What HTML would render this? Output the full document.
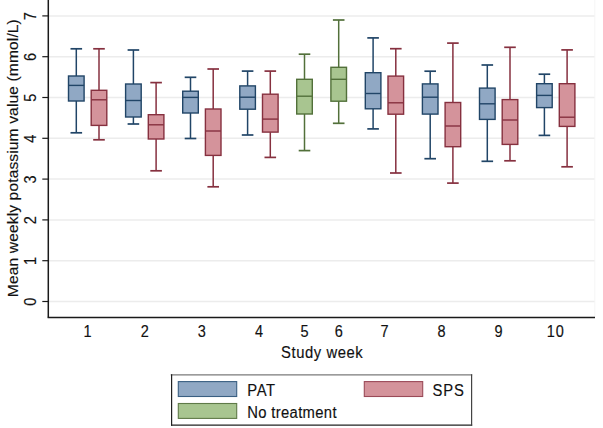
<!DOCTYPE html>
<html><head><meta charset="utf-8"><style>
html,body{margin:0;padding:0;background:#fff;}
body{width:603px;height:428px;overflow:hidden;}
svg{display:block;font-family:"Liberation Sans", sans-serif;}
text{stroke:#111;stroke-width:0.15px;}
</style></head><body>
<svg width="603" height="428" viewBox="0 0 603 428">
<rect width="603" height="428" fill="#fff"/>
<line x1="48.5" y1="301.50" x2="595" y2="301.50" stroke="#ececec" stroke-width="1.5"/>
<line x1="48.5" y1="260.70" x2="595" y2="260.70" stroke="#ececec" stroke-width="1.5"/>
<line x1="48.5" y1="219.90" x2="595" y2="219.90" stroke="#ececec" stroke-width="1.5"/>
<line x1="48.5" y1="179.10" x2="595" y2="179.10" stroke="#ececec" stroke-width="1.5"/>
<line x1="48.5" y1="138.30" x2="595" y2="138.30" stroke="#ececec" stroke-width="1.5"/>
<line x1="48.5" y1="97.50" x2="595" y2="97.50" stroke="#ececec" stroke-width="1.5"/>
<line x1="48.5" y1="56.70" x2="595" y2="56.70" stroke="#ececec" stroke-width="1.5"/>
<line x1="48.5" y1="15.90" x2="595" y2="15.90" stroke="#ececec" stroke-width="1.5"/>
<line x1="76.3" y1="48.8" x2="76.3" y2="76.0" stroke="#214567" stroke-width="1.5"/>
<line x1="76.3" y1="101.0" x2="76.3" y2="132.8" stroke="#214567" stroke-width="1.5"/>
<line x1="70.50" y1="48.8" x2="82.10" y2="48.8" stroke="#214567" stroke-width="1.7"/>
<line x1="70.50" y1="132.8" x2="82.10" y2="132.8" stroke="#214567" stroke-width="1.7"/>
<rect x="68.50" y="76.0" width="15.6" height="25.00" fill="#90a8c4" stroke="#214567" stroke-width="1.4"/>
<line x1="68.50" y1="85.4" x2="84.10" y2="85.4" stroke="#214567" stroke-width="1.4"/>
<line x1="99.0" y1="48.8" x2="99.0" y2="90.3" stroke="#86303f" stroke-width="1.5"/>
<line x1="99.0" y1="125.4" x2="99.0" y2="139.8" stroke="#86303f" stroke-width="1.5"/>
<line x1="93.20" y1="48.8" x2="104.80" y2="48.8" stroke="#86303f" stroke-width="1.7"/>
<line x1="93.20" y1="139.8" x2="104.80" y2="139.8" stroke="#86303f" stroke-width="1.7"/>
<rect x="91.20" y="90.3" width="15.6" height="35.10" fill="#d4939b" stroke="#86303f" stroke-width="1.4"/>
<line x1="91.20" y1="99.8" x2="106.80" y2="99.8" stroke="#86303f" stroke-width="1.4"/>
<line x1="133.4" y1="50.0" x2="133.4" y2="84.0" stroke="#214567" stroke-width="1.5"/>
<line x1="133.4" y1="117.0" x2="133.4" y2="124.0" stroke="#214567" stroke-width="1.5"/>
<line x1="127.60" y1="50.0" x2="139.20" y2="50.0" stroke="#214567" stroke-width="1.7"/>
<line x1="127.60" y1="124.0" x2="139.20" y2="124.0" stroke="#214567" stroke-width="1.7"/>
<rect x="125.60" y="84.0" width="15.6" height="33.00" fill="#90a8c4" stroke="#214567" stroke-width="1.4"/>
<line x1="125.60" y1="100.5" x2="141.20" y2="100.5" stroke="#214567" stroke-width="1.4"/>
<line x1="156.1" y1="82.6" x2="156.1" y2="114.7" stroke="#86303f" stroke-width="1.5"/>
<line x1="156.1" y1="139.0" x2="156.1" y2="170.8" stroke="#86303f" stroke-width="1.5"/>
<line x1="150.30" y1="82.6" x2="161.90" y2="82.6" stroke="#86303f" stroke-width="1.7"/>
<line x1="150.30" y1="170.8" x2="161.90" y2="170.8" stroke="#86303f" stroke-width="1.7"/>
<rect x="148.30" y="114.7" width="15.6" height="24.30" fill="#d4939b" stroke="#86303f" stroke-width="1.4"/>
<line x1="148.30" y1="124.8" x2="163.90" y2="124.8" stroke="#86303f" stroke-width="1.4"/>
<line x1="190.5" y1="77.3" x2="190.5" y2="91.2" stroke="#214567" stroke-width="1.5"/>
<line x1="190.5" y1="113.0" x2="190.5" y2="138.5" stroke="#214567" stroke-width="1.5"/>
<line x1="184.70" y1="77.3" x2="196.30" y2="77.3" stroke="#214567" stroke-width="1.7"/>
<line x1="184.70" y1="138.5" x2="196.30" y2="138.5" stroke="#214567" stroke-width="1.7"/>
<rect x="182.70" y="91.2" width="15.6" height="21.80" fill="#90a8c4" stroke="#214567" stroke-width="1.4"/>
<line x1="182.70" y1="97.4" x2="198.30" y2="97.4" stroke="#214567" stroke-width="1.4"/>
<line x1="213.2" y1="69.0" x2="213.2" y2="109.0" stroke="#86303f" stroke-width="1.5"/>
<line x1="213.2" y1="155.4" x2="213.2" y2="186.8" stroke="#86303f" stroke-width="1.5"/>
<line x1="207.40" y1="69.0" x2="219.00" y2="69.0" stroke="#86303f" stroke-width="1.7"/>
<line x1="207.40" y1="186.8" x2="219.00" y2="186.8" stroke="#86303f" stroke-width="1.7"/>
<rect x="205.40" y="109.0" width="15.6" height="46.40" fill="#d4939b" stroke="#86303f" stroke-width="1.4"/>
<line x1="205.40" y1="131.0" x2="221.00" y2="131.0" stroke="#86303f" stroke-width="1.4"/>
<line x1="247.6" y1="71.1" x2="247.6" y2="85.9" stroke="#214567" stroke-width="1.5"/>
<line x1="247.6" y1="109.2" x2="247.6" y2="135.0" stroke="#214567" stroke-width="1.5"/>
<line x1="241.80" y1="71.1" x2="253.40" y2="71.1" stroke="#214567" stroke-width="1.7"/>
<line x1="241.80" y1="135.0" x2="253.40" y2="135.0" stroke="#214567" stroke-width="1.7"/>
<rect x="239.80" y="85.9" width="15.6" height="23.30" fill="#90a8c4" stroke="#214567" stroke-width="1.4"/>
<line x1="239.80" y1="97.2" x2="255.40" y2="97.2" stroke="#214567" stroke-width="1.4"/>
<line x1="270.3" y1="71.1" x2="270.3" y2="94.2" stroke="#86303f" stroke-width="1.5"/>
<line x1="270.3" y1="132.1" x2="270.3" y2="157.4" stroke="#86303f" stroke-width="1.5"/>
<line x1="264.50" y1="71.1" x2="276.10" y2="71.1" stroke="#86303f" stroke-width="1.7"/>
<line x1="264.50" y1="157.4" x2="276.10" y2="157.4" stroke="#86303f" stroke-width="1.7"/>
<rect x="262.50" y="94.2" width="15.6" height="37.90" fill="#d4939b" stroke="#86303f" stroke-width="1.4"/>
<line x1="262.50" y1="119.1" x2="278.10" y2="119.1" stroke="#86303f" stroke-width="1.4"/>
<line x1="304.5" y1="54.2" x2="304.5" y2="79.3" stroke="#52703a" stroke-width="1.5"/>
<line x1="304.5" y1="114.0" x2="304.5" y2="150.6" stroke="#52703a" stroke-width="1.5"/>
<line x1="298.70" y1="54.2" x2="310.30" y2="54.2" stroke="#52703a" stroke-width="1.7"/>
<line x1="298.70" y1="150.6" x2="310.30" y2="150.6" stroke="#52703a" stroke-width="1.7"/>
<rect x="296.70" y="79.3" width="15.6" height="34.70" fill="#a8c590" stroke="#52703a" stroke-width="1.4"/>
<line x1="296.70" y1="96.2" x2="312.30" y2="96.2" stroke="#52703a" stroke-width="1.4"/>
<line x1="338.7" y1="20.0" x2="338.7" y2="67.3" stroke="#52703a" stroke-width="1.5"/>
<line x1="338.7" y1="101.2" x2="338.7" y2="123.3" stroke="#52703a" stroke-width="1.5"/>
<line x1="332.90" y1="20.0" x2="344.50" y2="20.0" stroke="#52703a" stroke-width="1.7"/>
<line x1="332.90" y1="123.3" x2="344.50" y2="123.3" stroke="#52703a" stroke-width="1.7"/>
<rect x="330.90" y="67.3" width="15.6" height="33.90" fill="#a8c590" stroke="#52703a" stroke-width="1.4"/>
<line x1="330.90" y1="79.3" x2="346.50" y2="79.3" stroke="#52703a" stroke-width="1.4"/>
<line x1="373.1" y1="37.9" x2="373.1" y2="72.7" stroke="#214567" stroke-width="1.5"/>
<line x1="373.1" y1="108.8" x2="373.1" y2="128.9" stroke="#214567" stroke-width="1.5"/>
<line x1="367.30" y1="37.9" x2="378.90" y2="37.9" stroke="#214567" stroke-width="1.7"/>
<line x1="367.30" y1="128.9" x2="378.90" y2="128.9" stroke="#214567" stroke-width="1.7"/>
<rect x="365.30" y="72.7" width="15.6" height="36.10" fill="#90a8c4" stroke="#214567" stroke-width="1.4"/>
<line x1="365.30" y1="93.5" x2="380.90" y2="93.5" stroke="#214567" stroke-width="1.4"/>
<line x1="395.8" y1="48.7" x2="395.8" y2="76.1" stroke="#86303f" stroke-width="1.5"/>
<line x1="395.8" y1="114.2" x2="395.8" y2="173.0" stroke="#86303f" stroke-width="1.5"/>
<line x1="390.00" y1="48.7" x2="401.60" y2="48.7" stroke="#86303f" stroke-width="1.7"/>
<line x1="390.00" y1="173.0" x2="401.60" y2="173.0" stroke="#86303f" stroke-width="1.7"/>
<rect x="388.00" y="76.1" width="15.6" height="38.10" fill="#d4939b" stroke="#86303f" stroke-width="1.4"/>
<line x1="388.00" y1="102.8" x2="403.60" y2="102.8" stroke="#86303f" stroke-width="1.4"/>
<line x1="430.2" y1="71.2" x2="430.2" y2="83.9" stroke="#214567" stroke-width="1.5"/>
<line x1="430.2" y1="114.1" x2="430.2" y2="158.7" stroke="#214567" stroke-width="1.5"/>
<line x1="424.40" y1="71.2" x2="436.00" y2="71.2" stroke="#214567" stroke-width="1.7"/>
<line x1="424.40" y1="158.7" x2="436.00" y2="158.7" stroke="#214567" stroke-width="1.7"/>
<rect x="422.40" y="83.9" width="15.6" height="30.20" fill="#90a8c4" stroke="#214567" stroke-width="1.4"/>
<line x1="422.40" y1="97.2" x2="438.00" y2="97.2" stroke="#214567" stroke-width="1.4"/>
<line x1="452.9" y1="43.1" x2="452.9" y2="102.5" stroke="#86303f" stroke-width="1.5"/>
<line x1="452.9" y1="146.7" x2="452.9" y2="183.1" stroke="#86303f" stroke-width="1.5"/>
<line x1="447.10" y1="43.1" x2="458.70" y2="43.1" stroke="#86303f" stroke-width="1.7"/>
<line x1="447.10" y1="183.1" x2="458.70" y2="183.1" stroke="#86303f" stroke-width="1.7"/>
<rect x="445.10" y="102.5" width="15.6" height="44.20" fill="#d4939b" stroke="#86303f" stroke-width="1.4"/>
<line x1="445.10" y1="126.0" x2="460.70" y2="126.0" stroke="#86303f" stroke-width="1.4"/>
<line x1="487.3" y1="65.0" x2="487.3" y2="88.1" stroke="#214567" stroke-width="1.5"/>
<line x1="487.3" y1="119.4" x2="487.3" y2="161.3" stroke="#214567" stroke-width="1.5"/>
<line x1="481.50" y1="65.0" x2="493.10" y2="65.0" stroke="#214567" stroke-width="1.7"/>
<line x1="481.50" y1="161.3" x2="493.10" y2="161.3" stroke="#214567" stroke-width="1.7"/>
<rect x="479.50" y="88.1" width="15.6" height="31.30" fill="#90a8c4" stroke="#214567" stroke-width="1.4"/>
<line x1="479.50" y1="103.8" x2="495.10" y2="103.8" stroke="#214567" stroke-width="1.4"/>
<line x1="510.0" y1="47.3" x2="510.0" y2="99.6" stroke="#86303f" stroke-width="1.5"/>
<line x1="510.0" y1="144.4" x2="510.0" y2="160.8" stroke="#86303f" stroke-width="1.5"/>
<line x1="504.20" y1="47.3" x2="515.80" y2="47.3" stroke="#86303f" stroke-width="1.7"/>
<line x1="504.20" y1="160.8" x2="515.80" y2="160.8" stroke="#86303f" stroke-width="1.7"/>
<rect x="502.20" y="99.6" width="15.6" height="44.80" fill="#d4939b" stroke="#86303f" stroke-width="1.4"/>
<line x1="502.20" y1="120.0" x2="517.80" y2="120.0" stroke="#86303f" stroke-width="1.4"/>
<line x1="544.4" y1="74.2" x2="544.4" y2="83.7" stroke="#214567" stroke-width="1.5"/>
<line x1="544.4" y1="107.6" x2="544.4" y2="135.4" stroke="#214567" stroke-width="1.5"/>
<line x1="538.60" y1="74.2" x2="550.20" y2="74.2" stroke="#214567" stroke-width="1.7"/>
<line x1="538.60" y1="135.4" x2="550.20" y2="135.4" stroke="#214567" stroke-width="1.7"/>
<rect x="536.60" y="83.7" width="15.6" height="23.90" fill="#90a8c4" stroke="#214567" stroke-width="1.4"/>
<line x1="536.60" y1="95.4" x2="552.20" y2="95.4" stroke="#214567" stroke-width="1.4"/>
<line x1="567.1" y1="49.9" x2="567.1" y2="83.7" stroke="#86303f" stroke-width="1.5"/>
<line x1="567.1" y1="126.4" x2="567.1" y2="166.8" stroke="#86303f" stroke-width="1.5"/>
<line x1="561.30" y1="49.9" x2="572.90" y2="49.9" stroke="#86303f" stroke-width="1.7"/>
<line x1="561.30" y1="166.8" x2="572.90" y2="166.8" stroke="#86303f" stroke-width="1.7"/>
<rect x="559.30" y="83.7" width="15.6" height="42.70" fill="#d4939b" stroke="#86303f" stroke-width="1.4"/>
<line x1="559.30" y1="117.2" x2="574.90" y2="117.2" stroke="#86303f" stroke-width="1.4"/>
<line x1="594.8" y1="0" x2="594.8" y2="317" stroke="#f5f5f5" stroke-width="1"/>
<line x1="48.3" y1="0" x2="48.3" y2="317.6" stroke="#1a1a1a" stroke-width="1.5"/>
<line x1="47.6" y1="317.6" x2="595" y2="317.6" stroke="#1a1a1a" stroke-width="1.5"/>
<line x1="42.3" y1="301.50" x2="48.3" y2="301.50" stroke="#1a1a1a" stroke-width="1.2"/>
<text transform="translate(35.60,301.80) scale(1,0.93) rotate(-90)" text-anchor="middle" font-size="15.6" fill="#111">0</text>
<line x1="42.3" y1="260.70" x2="48.3" y2="260.70" stroke="#1a1a1a" stroke-width="1.2"/>
<text transform="translate(35.60,261.00) scale(1,0.93) rotate(-90)" text-anchor="middle" font-size="15.6" fill="#111">1</text>
<line x1="42.3" y1="219.90" x2="48.3" y2="219.90" stroke="#1a1a1a" stroke-width="1.2"/>
<text transform="translate(35.60,220.20) scale(1,0.93) rotate(-90)" text-anchor="middle" font-size="15.6" fill="#111">2</text>
<line x1="42.3" y1="179.10" x2="48.3" y2="179.10" stroke="#1a1a1a" stroke-width="1.2"/>
<text transform="translate(35.60,179.40) scale(1,0.93) rotate(-90)" text-anchor="middle" font-size="15.6" fill="#111">3</text>
<line x1="42.3" y1="138.30" x2="48.3" y2="138.30" stroke="#1a1a1a" stroke-width="1.2"/>
<text transform="translate(35.60,138.60) scale(1,0.93) rotate(-90)" text-anchor="middle" font-size="15.6" fill="#111">4</text>
<line x1="42.3" y1="97.50" x2="48.3" y2="97.50" stroke="#1a1a1a" stroke-width="1.2"/>
<text transform="translate(35.60,97.80) scale(1,0.93) rotate(-90)" text-anchor="middle" font-size="15.6" fill="#111">5</text>
<line x1="42.3" y1="56.70" x2="48.3" y2="56.70" stroke="#1a1a1a" stroke-width="1.2"/>
<text transform="translate(35.60,57.00) scale(1,0.93) rotate(-90)" text-anchor="middle" font-size="15.6" fill="#111">6</text>
<line x1="42.3" y1="15.90" x2="48.3" y2="15.90" stroke="#1a1a1a" stroke-width="1.2"/>
<text transform="translate(35.60,16.20) scale(1,0.93) rotate(-90)" text-anchor="middle" font-size="15.6" fill="#111">7</text>
<text transform="translate(87.65,337.00) scale(0.93,1)" text-anchor="middle" font-size="15.6" fill="#111">1</text>
<text transform="translate(144.75,337.00) scale(0.93,1)" text-anchor="middle" font-size="15.6" fill="#111">2</text>
<text transform="translate(201.85,337.00) scale(0.93,1)" text-anchor="middle" font-size="15.6" fill="#111">3</text>
<text transform="translate(258.95,337.00) scale(0.93,1)" text-anchor="middle" font-size="15.6" fill="#111">4</text>
<text transform="translate(304.50,337.00) scale(0.93,1)" text-anchor="middle" font-size="15.6" fill="#111">5</text>
<text transform="translate(338.70,337.00) scale(0.93,1)" text-anchor="middle" font-size="15.6" fill="#111">6</text>
<text transform="translate(384.45,337.00) scale(0.93,1)" text-anchor="middle" font-size="15.6" fill="#111">7</text>
<text transform="translate(441.55,337.00) scale(0.93,1)" text-anchor="middle" font-size="15.6" fill="#111">8</text>
<text transform="translate(498.65,337.00) scale(0.93,1)" text-anchor="middle" font-size="15.6" fill="#111">9</text>
<text transform="translate(555.75,337.00) scale(0.93,1)" text-anchor="middle" font-size="15.6" letter-spacing="1.0" fill="#111">10</text>
<text transform="translate(322.20,357.70) scale(0.95,1)" text-anchor="middle" font-size="15.6" letter-spacing="0.6" fill="#111">Study week</text>
<text transform="translate(17.80,158.10) scale(0.95,1) rotate(-90)" text-anchor="middle" font-size="15.6" letter-spacing="0.12" fill="#111">Mean weekly potassium value (mmol/L)</text>
<rect x="171.3" y="374.6" width="300.3" height="50.6" fill="#fff"/>
<line x1="170.7" y1="374.9" x2="472.2" y2="374.9" stroke="#7a7a7a" stroke-width="1.3"/>
<line x1="171.6" y1="374.3" x2="171.6" y2="425.8" stroke="#222" stroke-width="1.2"/>
<line x1="171.0" y1="425.2" x2="472.2" y2="425.2" stroke="#222" stroke-width="1.2"/>
<line x1="471.6" y1="374.3" x2="471.6" y2="425.8" stroke="#444" stroke-width="1.2"/>
<rect x="178.3" y="381.6" width="58.4" height="14.9" fill="#90a8c4" stroke="#3a5f82" stroke-width="1.1"/>
<rect x="364.3" y="381.6" width="58.4" height="14.9" fill="#d4939b" stroke="#9a4a58" stroke-width="1.1"/>
<rect x="178.3" y="403.5" width="58.4" height="14.9" fill="#a8c590" stroke="#5f7a48" stroke-width="1.1"/>
<text transform="translate(247.20,396.00) scale(0.95,1)" font-size="15.6" letter-spacing="0.7" fill="#111">PAT</text>
<text transform="translate(432.40,396.00) scale(0.95,1)" font-size="15.6" letter-spacing="1.0" fill="#111">SPS</text>
<text transform="translate(247.20,417.60) scale(0.95,1)" font-size="15.6" letter-spacing="0.36" fill="#111">No treatment</text>
</svg>
</body></html>
